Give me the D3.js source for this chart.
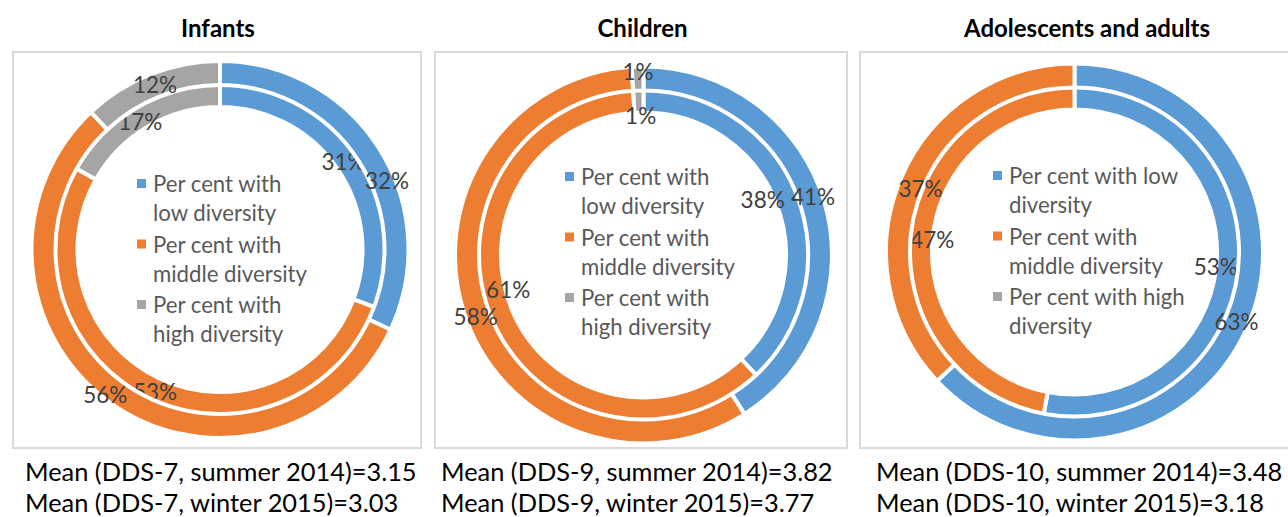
<!DOCTYPE html>
<html>
<head>
<meta charset="utf-8">
<script src="https://cdn.jsdelivr.net/npm/d3@7"></script>
<style>
  html, body { margin: 0; padding: 0; background: #fff; }
  svg { display: block; }
</style>
</head>
<body>
<svg id="chart" width="1288" height="517"></svg>
<script>
// ---- data ----------------------------------------------------------------
const panelTitles = ["Infants", "Children", "Adolescents and adults"];
const categories = ["Per cent with low diversity", "Per cent with middle diversity", "Per cent with high diversity"];

// inner ring = summer 2014, outer ring = winter 2015
const infantsSummer2014 = [31, 53, 17];
const infantsWinter2015 = [32, 56, 12];
const childrenSummer2014 = [38, 61, 1];
const childrenWinter2015 = [41, 58, 1];
const adultsSummer2014 = [53, 47, 0];
const adultsWinter2015 = [63, 37, 0];

// legend text as it wraps in each panel
const infantsLegendLines = [["Per cent with", "low diversity"], ["Per cent with", "middle diversity"], ["Per cent with", "high diversity"]];
const childrenLegendLines = [["Per cent with", "low diversity"], ["Per cent with", "middle diversity"], ["Per cent with", "high diversity"]];
const adultsLegendLines = [["Per cent with low", "diversity"], ["Per cent with", "middle diversity"], ["Per cent with high", "diversity"]];

const infantsMeans = ["Mean (DDS-7, summer 2014)=3.15", "Mean (DDS-7, winter 2015)=3.03"];
const childrenMeans = ["Mean (DDS-9, summer 2014)=3.82", "Mean (DDS-9, winter 2015)=3.77"];
const adultsMeans = ["Mean (DDS-10, summer 2014)=3.48", "Mean (DDS-10, winter 2015)=3.18"];

// ---- styling & layout -----------------------------------------------------
const colors = ["#5B9BD5", "#ED7D31", "#A5A5A5"];
const font = "Lato, 'Open Sans', sans-serif";
const titleSize = 24, labelSize = 22.5, legendSize = 22.2, meanSize = 25.4;

const layout = [
  { box: [13, 52, 408, 396], cx: 220, cy: 249.5, titleX: 218, legendX: 137, legendY: 192, meanX: 25 },
  { box: [435, 52, 412, 396], cx: 643.5, cy: 255, titleX: 642.5, legendX: 565, legendY: 185, meanX: 441 },
  { box: [860, 52, 454, 396], cx: 1074.5, cy: 252, titleX: 1087, legendX: 993, legendY: 184, meanX: 876 }
];

// small offsets that keep neighbouring data labels apart: [panel][ring][category]
const labelNudges = [
  [[[-3, 0], [0, 3], [-2, 6]], [[18, 26], [-11, 3], [0, 0]]],
  [[[-24, 2], [6, -26], [2, 15]], [[0, -9], [0, 8], [0, -6]]],
  [[[-12, 1], [11, 3], [0, 0]], [[0, 0], [8, 7], [0, 0]]]
];

const panels = [
  { title: panelTitles[0], rings: [infantsSummer2014, infantsWinter2015], legend: infantsLegendLines, means: infantsMeans },
  { title: panelTitles[1], rings: [childrenSummer2014, childrenWinter2015], legend: childrenLegendLines, means: childrenMeans },
  { title: panelTitles[2], rings: [adultsSummer2014, adultsWinter2015], legend: adultsLegendLines, means: adultsMeans }
];

// ring radii: inner ring then outer ring
const ringRadii = [[142.5, 165.5], [164.5, 188.5]];
const segmentGap = 4;

const svg = d3.select("#chart");
const color = d3.scaleOrdinal().domain(d3.range(categories.length)).range(colors);
const pie = d3.pie().sort(null).value(d => d.v).startAngle(0).endAngle(2 * Math.PI);

panels.forEach((p, pi) => {
  const L = layout[pi];

  // plot area frame
  svg.append("rect")
    .attr("x", L.box[0]).attr("y", L.box[1])
    .attr("width", L.box[2]).attr("height", L.box[3])
    .attr("fill", "#fff").attr("stroke", "#D9D9D9").attr("stroke-width", 2);

  // title
  svg.append("text")
    .attr("x", L.titleX).attr("y", 37)
    .attr("text-anchor", "middle")
    .attr("font-family", font).attr("font-weight", "bold").attr("font-size", titleSize)
    .attr("fill", "#000").text(p.title);

  const g = svg.append("g").attr("transform", `translate(${L.cx},${L.cy})`);

  p.rings.forEach((values, ri) => {
    const [r0, r1] = ringRadii[ri];
    const arc = d3.arc().innerRadius(r0).outerRadius(r1);
    const mid = d3.arc().innerRadius((r0 + r1) / 2).outerRadius((r0 + r1) / 2);
    const arcs = pie(values.map((v, i) => ({ v, i })));

    g.append("g").selectAll("path")
      .data(arcs.filter(d => d.data.v > 0))
      .join("path")
      .attr("d", arc)
      .attr("fill", d => color(d.data.i))
      .attr("stroke", "#fff").attr("stroke-width", segmentGap)
      .attr("stroke-linejoin", "miter");

    g.append("g").selectAll("text")
      .data(arcs.filter(d => d.data.v > 0))
      .join("text")
      .attr("transform", d => {
        const [x, y] = mid.centroid(d);
        const n = labelNudges[pi][ri][d.data.i];
        return `translate(${x + n[0]},${y + n[1]})`;
      })
      .attr("text-anchor", "middle").attr("dy", "0.35em")
      .attr("font-family", font).attr("font-size", labelSize)
      .attr("fill", "#404040")
      .text(d => d.data.v + "%");
  });

  // legend
  const lg = svg.append("g");
  p.legend.forEach((lines, i) => {
    const y0 = L.legendY + i * 60.5;
    lg.append("rect")
      .attr("x", L.legendX).attr("y", y0 - 13)
      .attr("width", 9).attr("height", 9)
      .attr("fill", color(i));
    lines.forEach((t, k) => {
      lg.append("text")
        .attr("x", L.legendX + 16).attr("y", y0 + k * 29)
        .attr("font-family", font).attr("font-size", legendSize)
        .attr("fill", "#595959").text(t);
    });
  });

  // means below the frame
  p.means.forEach((t, k) => {
    svg.append("text")
      .attr("x", L.meanX).attr("y", 481 + k * 31)
      .attr("font-family", font).attr("font-size", meanSize)
      .attr("fill", "#000").text(t);
  });
});
</script>
</body>
</html>
